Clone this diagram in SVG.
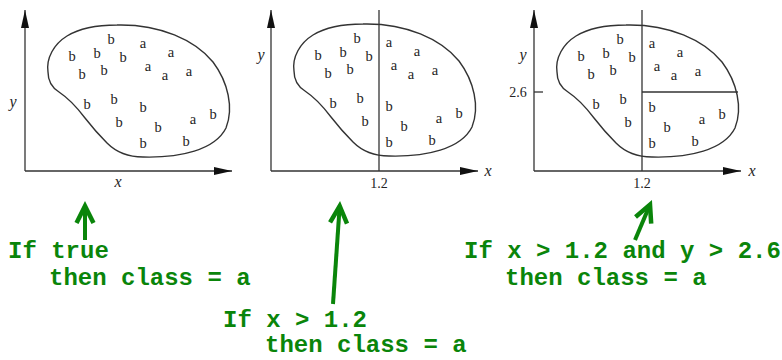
<svg xmlns="http://www.w3.org/2000/svg" width="782" height="360" viewBox="0 0 782 360">
<style>
.ax{stroke:#333;stroke-width:1.3;fill:none}
.ln{stroke:#333;stroke-width:1.3;fill:none}
.blob{stroke:#333;stroke-width:1.4;fill:none}
.pts{opacity:0.99}
.l{font-family:"Liberation Serif","Times New Roman",serif;font-size:14.5px;fill:#222;text-anchor:middle}
.it{font-family:"Liberation Serif","Times New Roman",serif;font-size:16px;font-style:italic;fill:#222;text-anchor:middle}
.num{font-family:"Liberation Serif","Times New Roman",serif;font-size:14px;fill:#222;text-anchor:middle}
.g{font-family:"Liberation Mono","Courier New",monospace;font-size:24px;font-weight:bold;fill:#0a850a}
.ga{stroke:#0a850a;stroke-width:4;fill:none}
</style>
<defs>
<marker id="ah" markerUnits="userSpaceOnUse" viewBox="-19 -5 20 10" refX="0" refY="0" markerWidth="20" markerHeight="10" orient="auto">
<path d="M0,0 L-18,-4 L-18,4 Z" fill="#111"/>
</marker>
<marker id="gh" markerUnits="userSpaceOnUse" viewBox="-26 -14 34 28" refX="0" refY="0" markerWidth="34" markerHeight="28" orient="auto">
<path d="M-17,-8.5 L0,0 L-17,8.5" stroke="#0a850a" stroke-width="4.5" fill="none" stroke-linejoin="miter" stroke-miterlimit="10"/>
</marker>
<path id="blobshape" d="M48,72 C46,58 54,44 67,36 C80,28 98,25 117,25 C160,24 195,40 213,62 C228,82 234,108 226,128 C215,150 180,158 143,157 C128,157 116,152 107,143 C98,134 92,127 85,118 C76,106 68,98 59,92 C51,87 48,80 48,72 Z"/>
</defs>

<g id="panel1">
<line class="ax" x1="25" y1="171" x2="25" y2="10" marker-end="url(#ah)"/>
<line class="ax" x1="25" y1="171" x2="232" y2="171" marker-end="url(#ah)"/>
<use href="#blobshape" class="blob"/>
<g class="pts">
<text class="it" x="13" y="107">y</text>
<text class="it" x="118" y="187">x</text>
<text class="l" x="111" y="44">b</text><text class="l" x="143" y="48">a</text>
<text class="l" x="72" y="61">b</text><text class="l" x="97" y="58">b</text><text class="l" x="123" y="62">b</text><text class="l" x="171" y="57">a</text>
<text class="l" x="82" y="79">b</text><text class="l" x="104" y="75">b</text><text class="l" x="148" y="71">a</text><text class="l" x="165" y="80">a</text><text class="l" x="189" y="76">a</text>
<text class="l" x="87" y="109">b</text><text class="l" x="114" y="104">b</text><text class="l" x="143" y="112">b</text>
<text class="l" x="119" y="127">b</text><text class="l" x="158" y="132">b</text><text class="l" x="193" y="124">a</text><text class="l" x="213" y="119">b</text>
<text class="l" x="143" y="148">b</text><text class="l" x="186" y="146">b</text>
</g>
</g>

<g id="panel2">
<line class="ax" x1="271" y1="171" x2="271" y2="10" marker-end="url(#ah)"/>
<line class="ax" x1="271" y1="171" x2="478" y2="171" marker-end="url(#ah)"/>
<use href="#blobshape" class="blob" transform="translate(246,-1)"/>
<line class="ln" x1="379" y1="10" x2="379" y2="171"/>
<g class="pts">
<text class="it" x="261" y="60">y</text>
<text class="it" x="488" y="176">x</text>
<text class="num" x="379" y="188">1.2</text>
</g>
<g class="pts" transform="translate(246,-1.5)">
<text class="l" x="111" y="44">b</text><text class="l" x="143" y="48">a</text>
<text class="l" x="72" y="61">b</text><text class="l" x="97" y="58">b</text><text class="l" x="123" y="62">b</text><text class="l" x="171" y="57">a</text>
<text class="l" x="82" y="79">b</text><text class="l" x="104" y="75">b</text><text class="l" x="148" y="71">a</text><text class="l" x="165" y="80">a</text><text class="l" x="189" y="76">a</text>
<text class="l" x="87" y="109">b</text><text class="l" x="114" y="104">b</text><text class="l" x="143" y="112">b</text>
<text class="l" x="119" y="127">b</text><text class="l" x="158" y="132">b</text><text class="l" x="193" y="124">a</text><text class="l" x="213" y="119">b</text>
<text class="l" x="143" y="148">b</text><text class="l" x="186" y="146">b</text>
</g>
</g>

<g id="panel3">
<line class="ax" x1="534" y1="171" x2="534" y2="10" marker-end="url(#ah)"/>
<line class="ax" x1="534" y1="171" x2="741" y2="171" marker-end="url(#ah)"/>
<use href="#blobshape" class="blob" transform="translate(509,0)"/>
<line class="ln" x1="642" y1="10" x2="642" y2="171"/>
<line class="ln" x1="642" y1="92" x2="738" y2="92"/>
<line class="ln" x1="534" y1="92" x2="543" y2="92"/>
<g class="pts">
<text class="it" x="523" y="60">y</text>
<text class="it" x="752" y="176">x</text>
<text class="num" x="518" y="97">2.6</text>
<text class="num" x="642" y="188">1.2</text>
</g>
<g class="pts" transform="translate(509,0)">
<text class="l" x="111" y="44">b</text><text class="l" x="143" y="48">a</text>
<text class="l" x="72" y="61">b</text><text class="l" x="97" y="58">b</text><text class="l" x="123" y="62">b</text><text class="l" x="171" y="57">a</text>
<text class="l" x="82" y="79">b</text><text class="l" x="104" y="75">b</text><text class="l" x="148" y="71">a</text><text class="l" x="165" y="80">a</text><text class="l" x="189" y="76">a</text>
<text class="l" x="87" y="109">b</text><text class="l" x="114" y="104">b</text><text class="l" x="143" y="112">b</text>
<text class="l" x="119" y="127">b</text><text class="l" x="158" y="132">b</text><text class="l" x="193" y="124">a</text><text class="l" x="213" y="119">b</text>
<text class="l" x="143" y="148">b</text><text class="l" x="186" y="146">b</text>
</g>
</g>

<g id="connectors">
<line class="ga" x1="85" y1="240" x2="85" y2="206" marker-end="url(#gh)"/>
<line class="ga" x1="333" y1="304" x2="339.7" y2="206" marker-end="url(#gh)"/>
<line class="ga" x1="635" y1="240" x2="650" y2="204.6" marker-end="url(#gh)"/>
</g>

<g id="rule1">
<text class="g" x="8" y="258">If true</text>
<text class="g" x="49" y="285">then class = a</text>
</g>
<g id="rule2">
<text class="g" x="223" y="327">If x &gt; 1.2</text>
<text class="g" x="265" y="352">then class = a</text>
</g>
<g id="rule3">
<text class="g" x="464" y="258">If x &gt; 1.2 and y &gt; 2.6</text>
<text class="g" x="505" y="285">then class = a</text>
</g>
</svg>
